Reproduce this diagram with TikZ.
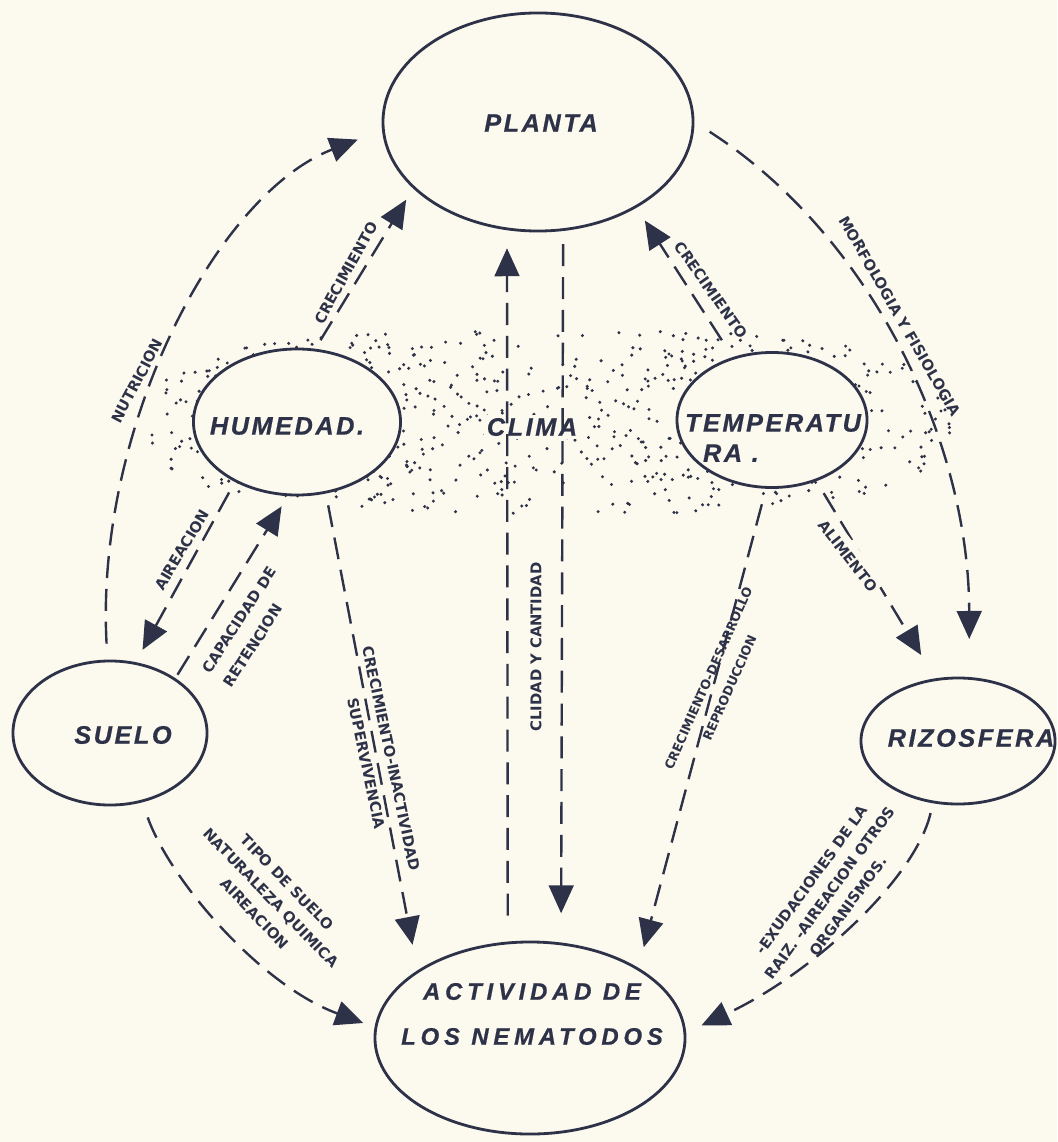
\documentclass[tikz,border=0pt]{standalone}
\usepackage{fontspec}
\setmainfont{Liberation Sans}
\newfontfamily\placefont{Liberation Sans}[LetterSpace=10, FakeBold=0.6]
\newfontfamily\wideplacefont{Liberation Sans}[LetterSpace=20, FakeBold=0.6]
\newfontfamily\lblfont{DejaVu Sans}
\usetikzlibrary{shapes.geometric}
\usetikzlibrary{arrows.meta}
\definecolor{ink}{RGB}{45,50,72}
\definecolor{paper}{RGB}{252,249,238}
\tikzset{
  place/.style={ellipse, draw=ink, line width=2pt, fill=paper, inner sep=0pt},
  placetxt/.style={text=ink, inner sep=0pt, font=\placefont\bfseries\itshape\fontsize{18}{21.5}\selectfont},
  flow/.style={draw=ink, line width=1.7pt, dash pattern=on 0.55cm off 0.27cm,
    -{Triangle[length=0.7cm,width=0.62cm]}},
  lbl/.style={text=ink, inner sep=1pt, align=center, font=\lblfont\bfseries\fontsize{10.5}{18}\selectfont},
}
\begin{document}
\begin{tikzpicture}[x=0.025cm, y=-0.025cm]
\useasboundingbox (0,0) rectangle (1057,1142);
\fill[paper] (0,0) rectangle (1057,1142);

% stipple of the climate
\pgfmathsetseed{21}
\foreach \i in {1,...,720}{
  \pgfmathsetmacro\ang{360*rnd}
  \pgfmathsetmacro\rad{sqrt(rnd)}
  \pgfmathsetmacro\dx{400*\rad*cos(\ang)*(abs(cos(\ang))+0.0001)^(-0.3)}
  \pgfmathsetmacro\dy{92*\rad*sin(\ang)*(abs(sin(\ang))+0.0001)^(-0.3)}
  \fill[ink] (550+\dx,422+\dy) circle (1.2pt);
}

% places
\node[place, minimum width=7.75cm, minimum height=5.45cm] (planta) at (538,122) {};
\node[place, minimum width=5.175cm, minimum height=3.65cm] (humedad) at (297,422) {};
\node[place, minimum width=4.75cm, minimum height=3.375cm] (temp) at (772,420) {};
\node[place, minimum width=4.85cm, minimum height=3.6cm] (suelo) at (110,733) {};
\node[place, minimum width=4.85cm, minimum height=3.15cm] (rizo) at (958,741) {};
\node[place, minimum width=7.75cm, minimum height=4.8cm] (actividad) at (530,1038) {};

\node[placetxt] (plantatxt) at (541,123) {PLANTA};
\node[placetxt] (humedadtxt) at (287,426) {HUMEDAD.};
\node[placetxt, fill=paper, inner sep=2pt] (climatxt) at (532,427) {CLIMA};
\node[placetxt, align=left] (temptxt) at (773,438) {TEMPERATU\\\hspace*{0.45cm}RA .};
\node[placetxt] (suelotxt) at (123,735) {SUELO};
\node[placetxt] (rizotxt) at (971,738) {RIZOSFERA};
\node[placetxt, align=center, font=\wideplacefont\bfseries\itshape\fontsize{17}{32}\selectfont]
  (actividadtxt) at (532,1014) {ACTIVIDAD DE\\LOS NEMATODOS};

% relations
\draw[flow, shorten <=0.4cm, shorten >=0.65cm] (suelo.92) .. controls (95,430) and (215,195) .. (planta.183);
\draw[flow, shorten <=0.25cm, shorten >=0.33cm] (humedad.76) -- (planta.208);
\draw[flow, shorten <=0.3cm, shorten >=0.35cm] (humedad.224) -- (suelo.70);
\draw[flow, shorten <=0.1cm, shorten >=0.3cm] (suelo.40) -- (humedad.263);
\draw[flow, shorten <=0.3cm, shorten >=0.65cm] (humedad.292) -- (actividad.149);
\draw[flow, shorten <=0.65cm, shorten >=0.45cm] (actividad.103) -- (planta.254);
\draw[flow, shorten <=0.33cm, shorten >=0.73cm] (planta.283) -- (actividad.72);
\draw[flow, shorten <=0.5cm, shorten >=0.38cm] (temp.122) -- (planta.319);
\draw[flow, shorten <=0.45cm, shorten >=0.95cm] (planta.east) .. controls (870,235) and (969,440) .. (rizo.80);
\draw[flow, shorten <=0.35cm, shorten >=0.68cm] (temp.306) -- (rizo.110);
\draw[flow, shorten <=0.4cm, shorten >=0.53cm] (temp.265) -- (actividad.33);
\draw[flow, shorten <=0.4cm, shorten >=0.3cm] (suelo.295) .. controls (170,880) and (260,985) .. (actividad.176);
\draw[flow, shorten <=0.25cm, shorten >=0.42cm] (rizo.248) .. controls (915,880) and (810,975) .. (actividad.2);

% labels
\node[lbl, rotate=62] (nutricion) at (137,381) {NUTRICION};
\node[lbl, rotate=61] (crecuno) at (346,273) {CRECIMIENTO};
\node[lbl, rotate=59] (aireacion) at (182,550) {AIREACION};
\node[lbl, rotate=57, align=left] (capacidad) at (250,627) {CAPACIDAD DE\\RETENCION};
\node[lbl, rotate=-78] (inactividad) at (379,761) {CRECIMIENTO-INACTIVIDAD\\SUPERVIVENCIA};
\node[lbl, rotate=90] (calidad) at (536,647) {CLIDAD Y CANTIDAD};
\node[lbl, rotate=-55] (crecdos) at (711,290) {CRECIMIENTO};
\node[lbl, rotate=-60] (morfologia) at (900,316) {MORFOLOGIA Y FISIOLOGIA};
\node[lbl, rotate=-52, fill=paper, inner ysep=5pt] (alimento) at (848,556) {ALIMENTO};
\node[lbl, rotate=66, font=\lblfont\bfseries\fontsize{9}{16.5}\selectfont] (desarrollo) at (719,683)
  {CRECIMIENTO-DESARROLLO\\REPRODUCCION};
\node[lbl, rotate=-46, font=\lblfont\bfseries\fontsize{10.5}{16}\selectfont] (tipo) at (271,898)
  {TIPO DE SUELO\\NATURALEZA QUIMICA\\AIREACION};
\node[lbl, rotate=54, font=\lblfont\bfseries\fontsize{10.5}{16}\selectfont] (exudaciones) at (830,893)
  {-EXUDACIONES DE LA\\RAIZ. -AIREACION OTROS\\ORGANISMOS.};
\end{tikzpicture}
\end{document}
